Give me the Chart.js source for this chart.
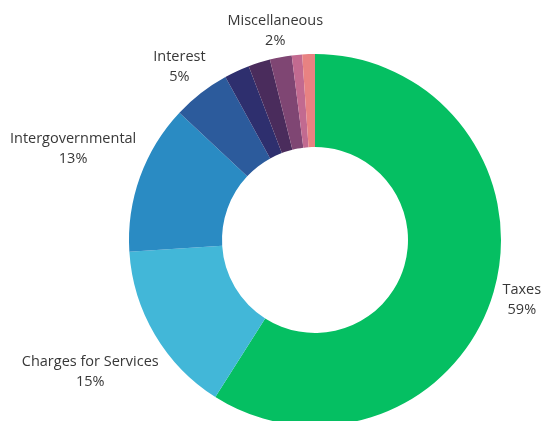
<!DOCTYPE html>
<html>
<head>
<meta charset="utf-8">
<script src="https://cdn.jsdelivr.net/npm/chart.js@4/dist/chart.umd.min.js"></script>
<style>
    html, body { margin: 0; padding: 0; background: #fff; overflow: hidden; }
    #wrap { position: relative; width: 542px; height: 426px; }
</style>
</head>
<body>
<div id="wrap"><canvas id="revenueChart"></canvas></div>
<script>
// revenue sources, clockwise from the top
const categories = ['Taxes', 'Charges for Services', 'Intergovernmental', 'Interest',
    'Other 1', 'Other 2', 'Miscellaneous', 'Other 3', 'Other 4'];
const shares = [59, 15, 13, 5, 2.2, 1.9, 1.9, 0.9, 1.1];
const showLabel = [true, true, true, true, false, false, true, false, false];

const sliceColors = ['#05bf62', '#42b7d8', '#2a8bc3', '#2c5b9c',
    '#2e2f6e', '#4a2c5c', '#7f4673', '#c26a90', '#e88282'];

// small nudges so labels sit where the original has them
const labelNudge = [[1, 0], [2, 23], [1, -19], [0, -5], [0, 0], [0, 0], [5, 0], [0, 0], [0, 0]];

const outsideLabels = {
    id: 'outsideLabels',
    afterDatasetsDraw(chart) {
        const ctx = chart.ctx;
        const arcs = chart.getDatasetMeta(0).data;
        ctx.save();
        ctx.font = '14.5px "Open Sans", sans-serif';
        ctx.fillStyle = '#383838';
        ctx.textAlign = 'center';
        ctx.textBaseline = 'middle';
        const lineH = 20;
        arcs.forEach((arc, i) => {
            if (!showLabel[i]) return;
            const mid = (arc.startAngle + arc.endAngle) / 2;
            const dx = Math.cos(mid), dy = Math.sin(mid);
            const lines = [categories[i], Math.round(shares[i]) + '%'];
            const w = Math.max(...lines.map(t => ctx.measureText(t).width));
            const h = 36;
            const rho = arc.outerRadius + 9;
            const x = arc.x + dx * rho + dx * w / 2 + labelNudge[i][0];
            const y = arc.y + dy * rho + dy * h / 2 + labelNudge[i][1];
            ctx.fillText(lines[0], x, y - lineH / 2);
            ctx.fillText(lines[1], x, y + lineH / 2);
        });
        ctx.restore();
    }
};

new Chart(document.getElementById('revenueChart'), {
    type: 'doughnut',
    data: {
        labels: categories,
        datasets: [{
            data: shares,
            backgroundColor: sliceColors,
            borderWidth: 0
        }]
    },
    options: {
        responsive: true,
        maintainAspectRatio: false,
        animation: false,
        cutout: '50%',
        layout: { padding: { top: 54, left: 88, right: 0, bottom: 0 } },
        plugins: {
            legend: { display: false },
            tooltip: { enabled: false }
        }
    },
    plugins: [outsideLabels]
});
</script>
</body>
</html>
